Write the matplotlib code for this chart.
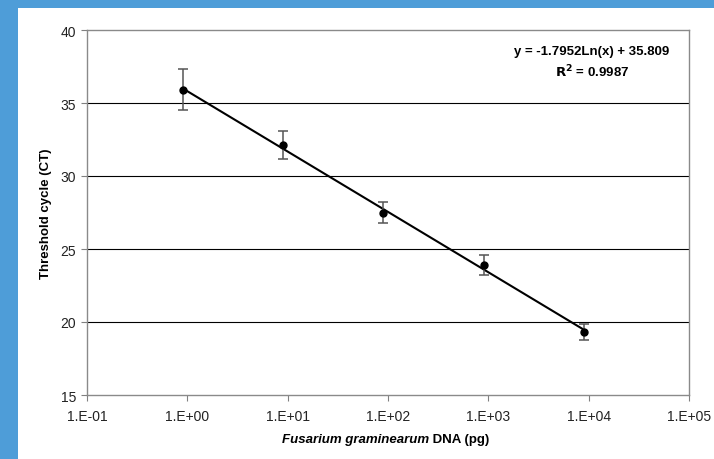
import numpy as np
import matplotlib
matplotlib.use('Agg')
import matplotlib.pyplot as plt
import matplotlib.patches as mpatches
from matplotlib.ticker import FixedLocator, FuncFormatter

plt.rcParams['font.family'] = ['Liberation Sans', 'DejaVu Sans']

# data
dna_pg = [0.9, 9, 90, 900, 9000]
ct_mean = [35.9, 32.1, 27.5, 23.9, 19.3]
ct_err = [1.4, 0.95, 0.7, 0.7, 0.55]

# trend line as printed on the chart
slope = -1.7952
intercept = 35.809
r2 = 0.9987

x_ticks = [1e-1, 1e0, 1e1, 1e2, 1e3, 1e4, 1e5]
y_ticks = [15, 20, 25, 30, 35, 40]

fig = plt.figure(figsize=(7.14, 4.6), dpi=100)
fig.patch.set_facecolor('#4E9DD8')
# white panel inside the blue frame
fig.patches.append(mpatches.Rectangle((18 / 714, 0), 1, 1 - 9 / 460, transform=fig.transFigure,
                                      facecolor='white', edgecolor='none', zorder=-10))

ax = fig.add_axes([87 / 714, 1 - 396 / 460, (689 - 87) / 714, (396 - 31) / 460])
ax.set_zorder(1)
ax.set_xscale('log')
ax.set_xlim(1e-1, 1e5)
ax.set_ylim(15, 40)

for y in y_ticks[1:-1]:
    ax.axhline(y, color='black', lw=0.8, zorder=1)

# trend line between the smallest and largest x
xs = np.array([min(dna_pg), max(dna_pg)])
ax.plot(xs, slope * np.log(xs) + intercept, color='black', lw=1.5, zorder=2)

ax.errorbar(dna_pg, ct_mean, yerr=ct_err, fmt='none', ecolor='#555555', elinewidth=1.1,
            capsize=3.3, capthick=1.1, zorder=3)
ax.plot(dna_pg, ct_mean, 'o', color='black', markersize=5, zorder=4)

ax.xaxis.set_major_locator(FixedLocator(x_ticks))
ax.xaxis.set_minor_locator(FixedLocator([]))
ax.xaxis.set_major_formatter(FuncFormatter(lambda v, p: '1.E%+03d' % int(round(np.log10(v)))))
ax.yaxis.set_major_locator(FixedLocator(y_ticks))
ax.tick_params(axis='both', direction='out', length=4, width=0.8, color='#808080',
               labelsize=10, labelcolor='#222222', pad=4)
ax.tick_params(axis='x', pad=6)
for s in ax.spines.values():
    s.set_color('#8a8a8a')
    s.set_linewidth(1.0)

ax.set_ylabel('Threshold cycle (CT)', fontsize=9.5, fontweight='bold', labelpad=6)

ax.text(0.839, 0.942, 'y = -1.7952Ln(x) + 35.809', transform=ax.transAxes, ha='center',
        va='center', fontsize=9.5, fontweight='bold')
ax.text(0.839, 0.888, '$\\mathbf{R^2}$ = %.4f' % r2, transform=ax.transAxes, ha='center',
        va='center', fontsize=9.5, fontweight='bold')

# x label: italic species name followed by plain bold text
t1 = fig.text(0, 1 - 440 / 460, 'Fusarium graminearum', fontsize=9.5, fontweight='bold',
              fontstyle='italic', va='center')
t2 = fig.text(0, 1 - 440 / 460, ' DNA (pg)', fontsize=9.5, fontweight='bold', va='center')
fig.canvas.draw()
r = fig.canvas.get_renderer()
w1 = t1.get_window_extent(r).width / fig.bbox.width
w2 = t2.get_window_extent(r).width / fig.bbox.width
cx = 386 / 714
t1.set_x(cx - (w1 + w2) / 2)
t2.set_x(cx - (w1 + w2) / 2 + w1)

fig.savefig('out.png', dpi=100, facecolor=fig.get_facecolor())
